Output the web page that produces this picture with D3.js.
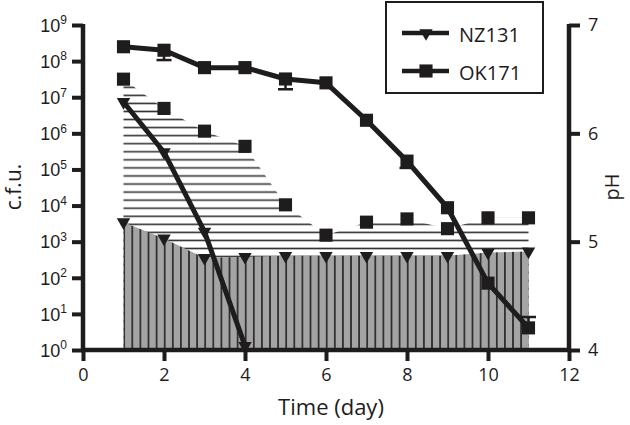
<!DOCTYPE html>
<html>
<head>
<meta charset="utf-8">
<script src="https://cdn.jsdelivr.net/npm/d3@7"></script>
<style>
  html, body { margin: 0; padding: 0; background: #fff; }
  svg { display: block; font-family: "Open Sans", sans-serif; }
</style>
</head>
<body>
<div id="chart"></div>
<script>
// ---------- data ----------
const days = [1, 2, 3, 4, 5, 6, 7, 8, 9, 10, 11];
const nzCfuDays = [1, 2, 3, 4];
const nzCfu = [7.4e6, 3.0e5, 1.9e3, 1.3];
const okCfu = [2.5e8, 2.0e8, 6.6e7, 6.6e7, 3.2e7, 2.5e7, 2.3e6, 1.7e5, 8.7e3, 71, 4.1];
const okErrDays = [2, 5, 8, 11];
const okErrEnd = [1.07e8, 1.66e7, 1.1e5, 8.2];
const nzPh = [5.18, 5.03, 4.85, 4.86, 4.87, 4.87, 4.87, 4.87, 4.87, 4.90, 4.91];
const okPh = [6.50, 6.23, 6.02, 5.88, 5.34, 5.06, 5.18, 5.21, 5.12, 5.22, 5.22];
const xTicks = [0, 2, 4, 6, 8, 10, 12];
const cfuTickExp = [0, 1, 2, 3, 4, 5, 6, 7, 8, 9];
const phTicks = [4, 5, 6, 7];
const seriesNames = ["NZ131", "OK171"];
const xTitle = "Time (day)";
const yLeftTitle = "c.f.u.";
const yRightTitle = "pH";

// ---------- setup ----------
const W = 630, H = 425;
const ink = "#1e1c1c";
const svg = d3.select("#chart").append("svg").attr("width", W).attr("height", H);

const x = d3.scaleLinear().domain([0, 12]).range([83, 569]);
const yL = d3.scaleLog().domain([1, 1e9]).range([350, 25]);
const yR = d3.scaleLinear().domain([4, 7]).range([350, 25]);

const defs = svg.append("defs");
// horizontal hatch
const ph = defs.append("pattern").attr("id", "hatchH").attr("patternUnits", "userSpaceOnUse")
  .attr("x", 0).attr("y", 0).attr("width", 20).attr("height", 8.06);
ph.append("rect").attr("width", 20).attr("height", 8.06).attr("fill", "#fff");
ph.append("line").attr("x1", 0).attr("x2", 20).attr("y1", 6.7).attr("y2", 6.7)
  .attr("stroke", "#333").attr("stroke-width", 1.6);
// vertical hatch on grey
const pv = defs.append("pattern").attr("id", "hatchV").attr("patternUnits", "userSpaceOnUse")
  .attr("x", 0).attr("y", 0).attr("width", 8.1).attr("height", 20);
pv.append("rect").attr("width", 8.1).attr("height", 20).attr("fill", "#a4a4a4");
const vOff = 132.3 % 8.1;
pv.append("line").attr("x1", vOff).attr("x2", vOff).attr("y1", 0).attr("y2", 20)
  .attr("stroke", "#222").attr("stroke-width", 1.6);

// ---------- areas ----------
const okPhData = days.map((d, i) => [d, okPh[i]]);
const nzPhData = days.map((d, i) => [d, nzPh[i]]);
const area = d3.area().x(d => x(d[0])).y0(yR(4)).y1(d => yR(d[1]));

svg.append("path").datum(okPhData).attr("d", area).attr("fill", "url(#hatchH)");
svg.append("path").datum(nzPhData).attr("d", area).attr("fill", "url(#hatchV)");

// ---------- symbols ----------
const triDown = d3.symbol().type(d3.symbolTriangle).size(78)();
const square = d3.symbol().type(d3.symbolSquare).size(172)();

// pH markers
svg.append("g").selectAll("path").data(okPhData).join("path")
  .attr("d", square).attr("fill", ink)
  .attr("transform", d => `translate(${x(d[0])},${yR(d[1])})`);
svg.append("g").selectAll("path").data(nzPhData).join("path")
  .attr("d", triDown).attr("fill", ink)
  .attr("transform", d => `translate(${x(d[0])},${yR(d[1])}) rotate(180)`);

// ---------- cfu lines ----------
const line = d3.line().x(d => x(d[0])).y(d => yL(d[1]));
const okCfuData = days.map((d, i) => [d, okCfu[i]]);
const nzCfuData = nzCfuDays.map((d, i) => [d, nzCfu[i]]);

// error bars
const eg = svg.append("g").attr("stroke", ink).attr("stroke-width", 2.5);
okErrDays.forEach((d, i) => {
  const v = okCfu[days.indexOf(d)];
  eg.append("line").attr("x1", x(d)).attr("x2", x(d)).attr("y1", yL(v)).attr("y2", yL(okErrEnd[i]));
  eg.append("line").attr("x1", x(d) - 7.5).attr("x2", x(d) + 7.5).attr("y1", yL(okErrEnd[i])).attr("y2", yL(okErrEnd[i]));
});

svg.append("path").datum(okCfuData).attr("d", line).attr("fill", "none")
  .attr("stroke", ink).attr("stroke-width", 5).attr("stroke-linejoin", "round");
svg.append("path").datum(nzCfuData).attr("d", line).attr("fill", "none")
  .attr("stroke", ink).attr("stroke-width", 5).attr("stroke-linejoin", "round");

svg.append("g").selectAll("path").data(okCfuData).join("path")
  .attr("d", square).attr("fill", ink)
  .attr("transform", d => `translate(${x(d[0])},${yL(d[1])})`);
svg.append("g").selectAll("path").data(nzCfuData).join("path")
  .attr("d", triDown).attr("fill", ink)
  .attr("transform", d => `translate(${x(d[0])},${yL(d[1])}) rotate(180)`);

// ---------- axes ----------
function styleAxis(g) {
  g.select(".domain").attr("stroke", ink).attr("stroke-width", 4.5);
  g.selectAll(".tick line").attr("stroke", ink).attr("stroke-width", 4);
  g.selectAll(".tick text").attr("fill", ink).attr("font-size", 18)
    .attr("font-family", "Open Sans, sans-serif");
}

const gx = svg.append("g").attr("transform", `translate(0,${yR(4)})`)
  .call(d3.axisBottom(x).tickValues(xTicks).tickSize(11).tickSizeOuter(0).tickPadding(7));
styleAxis(gx);
gx.select(".domain").attr("d", `M${x(0) - 2},0H${x(12) + 2}`);

const gl = svg.append("g").attr("transform", `translate(${x(0)},0)`)
  .call(d3.axisLeft(yL).tickValues(cfuTickExp.map(e => Math.pow(10, e))).tickSize(11)
    .tickSizeOuter(0).tickFormat(""));
styleAxis(gl);
gl.select(".domain").attr("d", `M0,${yL(1e9) - 1}V${yL(1) + 2}`);
gl.selectAll(".tick").each(function(d, i) {
  const t = d3.select(this).append("text").attr("x", -16).attr("y", 0).attr("dy", "0.35em")
    .attr("text-anchor", "end").attr("fill", ink).attr("font-size", 18);
  t.append("tspan").text("10");
  t.append("tspan").attr("font-size", 12).attr("dy", "-0.62em").text(cfuTickExp[i]);
});

const gr = svg.append("g").attr("transform", `translate(${x(12)},0)`)
  .call(d3.axisRight(yR).tickValues(phTicks).tickSize(11).tickSizeOuter(0).tickPadding(8)
    .tickFormat(d3.format("d")));
styleAxis(gr);
gr.select(".domain").attr("d", `M0,${yR(7) - 1}V${yR(4) + 2}`);

// ---------- titles ----------
svg.append("text").attr("x", 331).attr("y", 415).attr("text-anchor", "middle")
  .attr("font-size", 22).attr("fill", ink).text(xTitle);
svg.append("text").attr("transform", `translate(21,187) rotate(-90)`).attr("text-anchor", "middle")
  .attr("font-size", 21).attr("fill", ink).text(yLeftTitle);
svg.append("text").attr("transform", `translate(619,187) rotate(-90)`).attr("text-anchor", "middle")
  .attr("font-size", 20).attr("fill", ink).text(yRightTitle);

// ---------- legend ----------
const lg = svg.append("g");
lg.append("rect").attr("x", 386).attr("y", 2).attr("width", 157).attr("height", 91)
  .attr("fill", "#fff").attr("stroke", ink).attr("stroke-width", 2);
const legendMarks = [triDown, square];
seriesNames.forEach((name, i) => {
  const cy = 33 + i * 38;
  lg.append("line").attr("x1", 402).attr("x2", 449).attr("y1", cy).attr("y2", cy)
    .attr("stroke", ink).attr("stroke-width", 4.5);
  lg.append("path").attr("d", legendMarks[i]).attr("fill", ink)
    .attr("transform", `translate(426,${cy})` + (i === 0 ? " rotate(180)" : ""));
  lg.append("text").attr("x", 459).attr("y", cy + 9).attr("font-size", 20).attr("fill", ink).text(name);
});
</script>
</body>
</html>
